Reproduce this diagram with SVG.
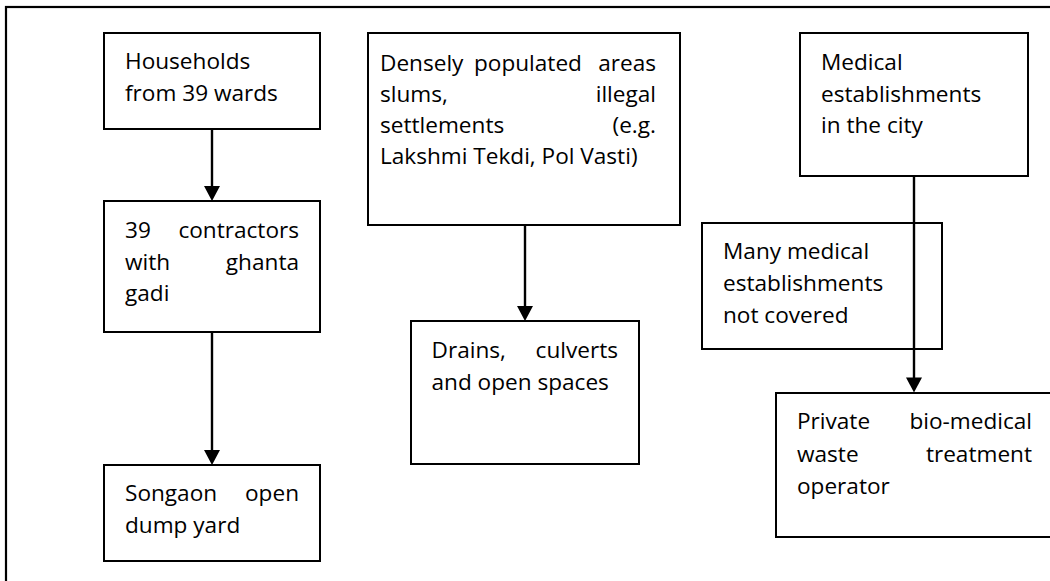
<svg xmlns="http://www.w3.org/2000/svg" width="1050" height="581" viewBox="0 0 1050 581">
<style>
.box{fill:#fff;stroke:#000;stroke-width:2}
.frame{fill:#fff;stroke:#000;stroke-width:2.2}
text{font-family:"Open Sans","Noto Sans","Liberation Sans",sans-serif;font-size:22.6px;fill:#000}
.e{text-anchor:end}
.conn{stroke:#000;stroke-width:2.4;fill:none}
</style>
<defs>
<marker id="arr" markerUnits="userSpaceOnUse" markerWidth="16" markerHeight="16" viewBox="0 0 15 16" refX="7" refY="8" orient="auto">
<path d="M0,0 L15,8 L0,16 Z" fill="#000"/>
</marker>
</defs>
<rect class="frame" x="6" y="7" width="1060" height="600"/>
<g id="n1">
<rect class="box" x="104" y="33" width="216" height="96"/>
<text x="125" y="68.5">Households</text>
<text x="125" y="100.5">from 39 wards</text>
</g>
<g id="n2">
<rect class="box" x="104" y="201" width="216" height="131"/>
<text x="125" y="238">39</text><text class="e" x="299" y="238">contractors</text>
<text x="125" y="269.5">with</text><text class="e" x="299" y="269.5">ghanta</text>
<text x="125" y="301">gadi</text>
</g>
<g id="n3">
<rect class="box" x="104" y="465" width="216" height="96"/>
<text x="125" y="501">Songaon</text><text class="e" x="299" y="501">open</text>
<text x="125" y="532.5">dump yard</text>
</g>
<g id="n4">
<rect class="box" x="368" y="33" width="312" height="192"/>
<text x="380" y="70.5">Densely</text><text x="474" y="70.5">populated</text><text class="e" x="656" y="70.5">areas</text>
<text x="380" y="101.8">slums,</text><text class="e" x="656" y="101.8">illegal</text>
<text x="380" y="133">settlements</text><text class="e" x="656" y="133">(e.g.</text>
<text x="380" y="164.3">Lakshmi Tekdi, Pol Vasti)</text>
</g>
<g id="n5">
<rect class="box" x="411" y="321" width="228" height="143"/>
<text x="431.5" y="357.5">Drains,</text><text class="e" x="618" y="357.5">culverts</text>
<text x="431.5" y="390">and open spaces</text>
</g>
<g id="n6">
<rect class="box" x="800" y="33" width="228" height="143"/>
<text x="821" y="70">Medical</text>
<text x="821" y="101.5">establishments</text>
<text x="821" y="133">in the city</text>
</g>
<g id="n7">
<rect class="box" x="702" y="223" width="240" height="126"/>
<text x="723" y="258.5">Many medical</text>
<text x="723" y="290.5">establishments</text>
<text x="723" y="323">not covered</text>
</g>
<g id="n8">
<rect class="box" x="776" y="393" width="280" height="144"/>
<text x="797" y="428.5">Private</text><text class="e" x="1032" y="428.5">bio-medical</text>
<text x="797" y="461.5">waste</text><text class="e" x="1032" y="461.5">treatment</text>
<text x="797" y="493.5">operator</text>
</g>
<g id="connectors">
<line class="conn" x1="212" y1="129" x2="212" y2="193" marker-end="url(#arr)"/>
<line class="conn" x1="212" y1="332" x2="212" y2="457" marker-end="url(#arr)"/>
<line class="conn" x1="525" y1="225" x2="525" y2="313" marker-end="url(#arr)"/>
<line class="conn" x1="914" y1="176" x2="914" y2="384.5" marker-end="url(#arr)"/>
</g>
</svg>
